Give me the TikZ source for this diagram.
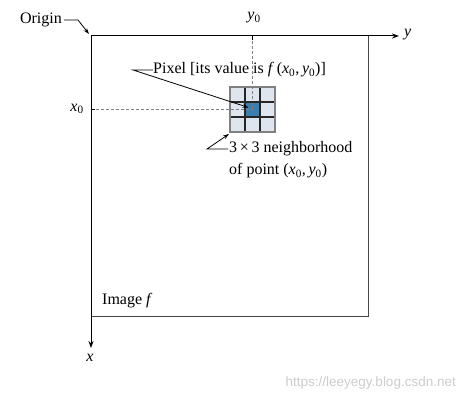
\documentclass[tikz,border=0pt]{standalone}
\usepackage{fontspec}
\setmainfont{Liberation Serif}
\newfontfamily\wmfont{Liberation Sans}
\usetikzlibrary{arrows.meta}
\definecolor{cellfill}{RGB}{222,229,239}
\definecolor{pixfill}{RGB}{58,127,176}
\definecolor{framecol}{RGB}{70,70,70}
\newcommand\xnull{\textit{x}\textsubscript{0}}
\newcommand\ynull{\textit{y}\textsubscript{0}}

\begin{document}
\begin{tikzpicture}[x=1pt,y=-1pt,
  font=\fontsize{16}{18}\selectfont,
  every node/.style={inner sep=0pt},
  axis/.style={line width=1pt,-{Stealth[length=7pt,width=5pt]}},
  leader/.style={line width=0.8pt,-{Stealth[length=6pt,width=4pt]}},
  guide/.style={gray,dashed,line width=0.6pt,dash pattern=on 3pt off 2pt}]
\useasboundingbox (0,0) rectangle (466,403);
% frame and axes
\coordinate (O) at (91,36);
\coordinate (yend) at (399,36);
\coordinate (xend) at (91,348);
\draw[framecol,line width=1pt] (O) rectangle (368,317);
\draw[axis] (O) -- (yend);
\draw[axis] (O) -- (xend);
\node[anchor=west] (ylab) at (404,35) {\textit{y}};
\node (xlab) at (90,358) {\textit{x}};
\node[anchor=west] (imglab) at (102,301) {Image \textit{f}};
% origin label
\node[anchor=east] (orig) at (62,20) {Origin};
\draw[leader] ([xshift=2pt]orig.east) -- (78,20) -- ([shift={(-2,-2)}]O);
% grid of 3x3 cells
\foreach \i in {0,1,2}
  \foreach \j in {0,1,2}
    \fill[cellfill] (230+15*\i,87+15*\j) rectangle ++(15,15);
\fill[pixfill] (245,102) rectangle (260,117);
\coordinate (pix) at (252.5,109.5);
\coordinate (gridsw) at (230,132);
% coordinate guides
\node (ynlab) at (254,18) {\ynull};
\node (xnlab) at (77,109) {\xnull};
\draw[guide] (252.5,36) -- (pix);
\draw[guide] (91,109.5) -- (pix);
\draw[line width=1.4pt] (252.5,36) -- (252.5,40);
\draw[line width=1.4pt] (91,109.5) -- (95,109.5);
\draw[black!85,line width=1.4pt] (245,87) -- (245,132) (260,87) -- (260,132)
  (230,102) -- (275,102) (230,117) -- (275,117);
\draw[gray,line width=1.2pt] (230,87) rectangle (275,132);
% labels with leaders
\node[anchor=west] (pixlab) at (153,70) {Pixel [its value is \textit{f}\,(\xnull,\,\ynull)]};
\draw[leader] (pixlab.west) -- (133,70) -- ([shift={(-4,-2)}]pix);
\node[anchor=west] (nblab) at (229,149) {3\,×\,3 neighborhood};
\node[anchor=west] (ptlab) at (229,171) {of point (\xnull,\,\ynull)};
\draw[leader] ([xshift=-1pt]nblab.west) -- (207,149) -- ([shift={(-1,2)}]gridsw);
% watermark
\node[anchor=east,text=gray!40,font=\wmfont\fontsize{13.5}{16}\selectfont] (wm) at (456,383) {https://leeyegy.blog.csdn.net};
\end{tikzpicture}
\end{document}
